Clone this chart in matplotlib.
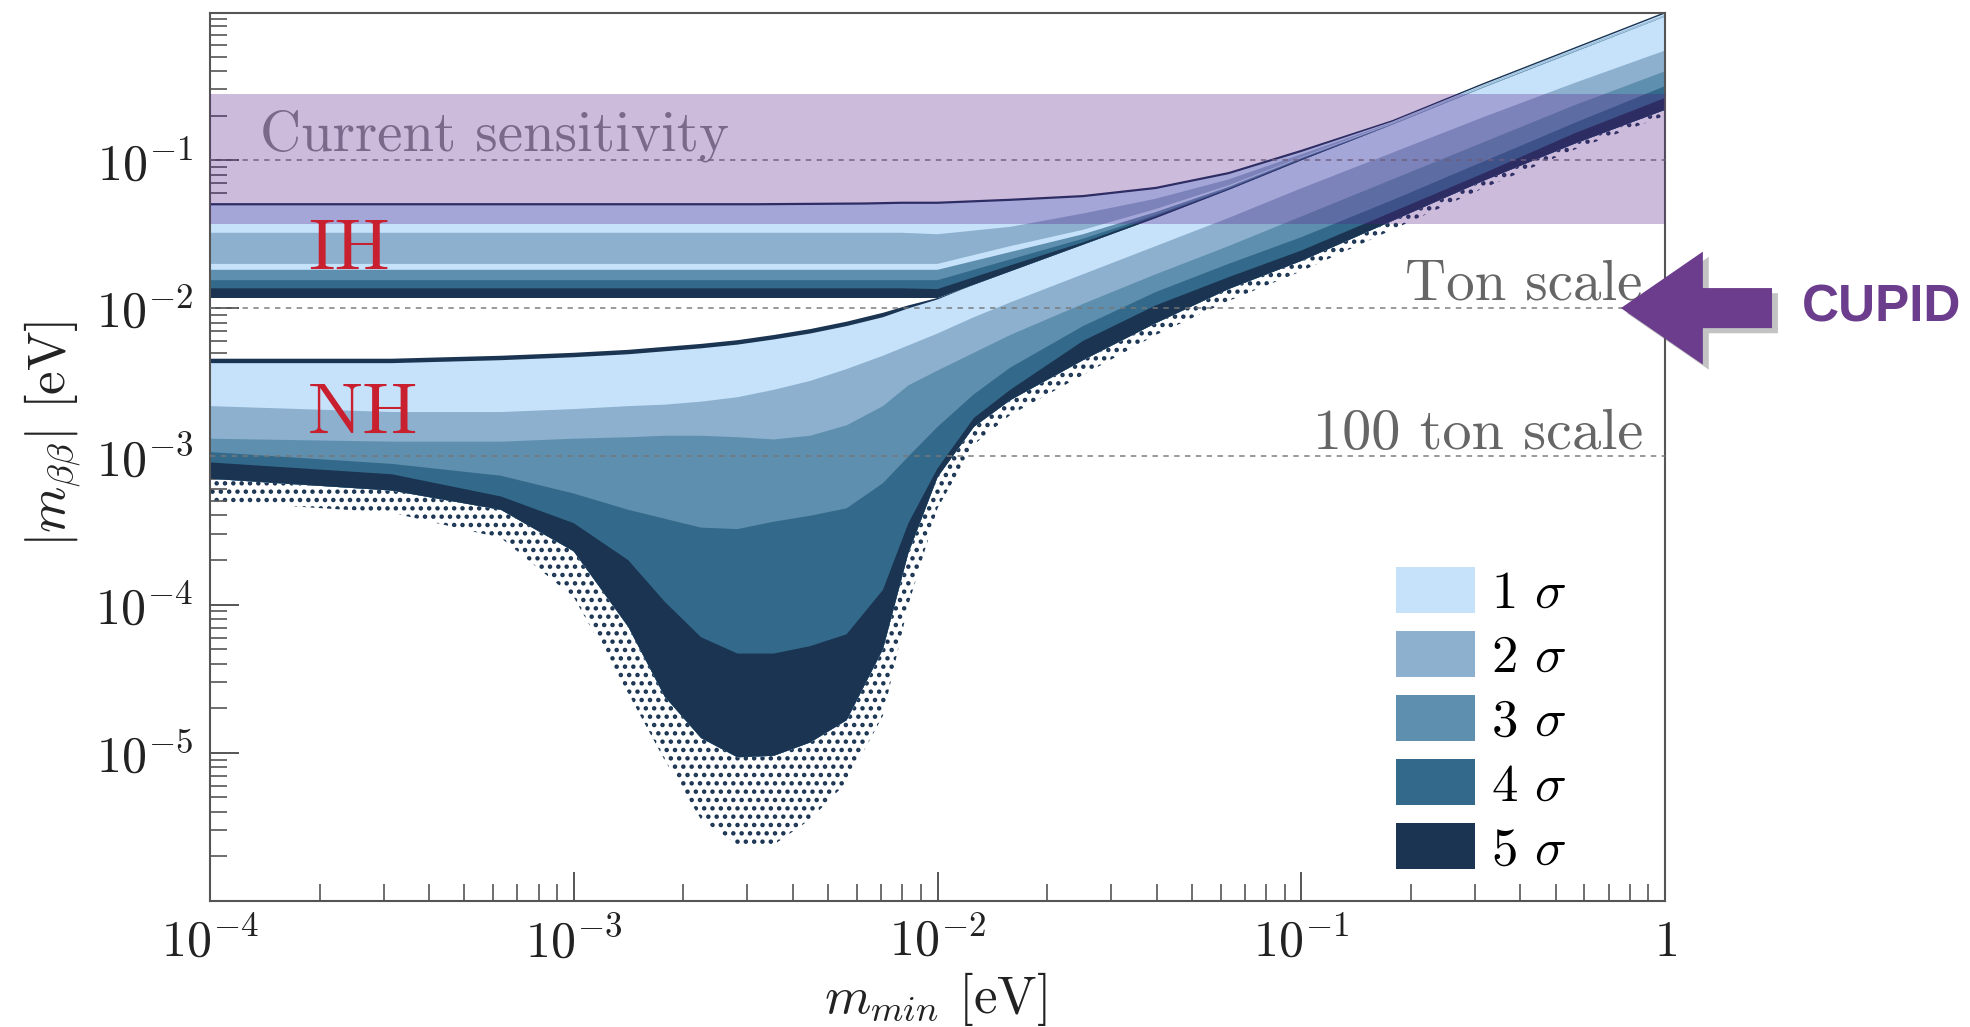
import numpy as np
import matplotlib
matplotlib.use("Agg")
import matplotlib.pyplot as plt
from matplotlib.patches import Patch, FancyArrow
from matplotlib.ticker import LogLocator, FuncFormatter, NullFormatter

plt.rcParams['mathtext.fontset'] = 'cm'
plt.rcParams['hatch.linewidth'] = 2.0

# ---- data (log10 of eV) ----
# normal hierarchy: boundaries from top (5 sigma edge) down to the 5 sigma bottom
nh_log_mmin = [-4.0, -3.5, -3.2, -3.0, -2.85, -2.75, -2.65, -2.55, -2.45, -2.35, -2.25, -2.15,
               -2.08, -2.0, -1.9, -1.8, -1.6, -1.4, -1.2, -1.0, -0.75, -0.5, -0.25, 0.0]
nh_top5 = [-2.34, -2.34, -2.32, -2.30, -2.28, -2.26, -2.24, -2.215, -2.18, -2.14, -2.09, -2.03,
           -1.98, -1.93, -1.84, -1.75, -1.57, -1.39, -1.20, -1.00, -0.76, -0.51, -0.27, -0.03]
nh_top1 = [-2.37, -2.37, -2.35, -2.33, -2.31, -2.29, -2.27, -2.245, -2.21, -2.17, -2.12, -2.06,
           -2.00, -1.94, -1.84, -1.75, -1.57, -1.39, -1.20, -1.00, -0.76, -0.51, -0.27, -0.03]
nh_1s_2s = [-2.66, -2.70, -2.70, -2.68, -2.66, -2.65, -2.63, -2.60, -2.55, -2.49, -2.41, -2.32,
            -2.25, -2.17, -2.06, -1.96, -1.77, -1.58, -1.39, -1.19, -0.95, -0.71, -0.48, -0.26]
nh_2s_3s = [-2.88, -2.90, -2.90, -2.88, -2.87, -2.86, -2.86, -2.87, -2.885, -2.86, -2.79, -2.66,
            -2.52, -2.42, -2.30, -2.18, -1.97, -1.77, -1.58, -1.38, -1.13, -0.88, -0.63, -0.40]
nh_3s_4s = [-2.97, -3.05, -3.13, -3.25, -3.36, -3.42, -3.48, -3.49, -3.44, -3.40, -3.35, -3.18,
            -3.00, -2.80, -2.58, -2.40, -2.12, -1.89, -1.70, -1.52, -1.27, -1.01, -0.75, -0.50]
nh_4s_5s = [-3.04, -3.12, -3.27, -3.45, -3.70, -3.98, -4.22, -4.33, -4.33, -4.28, -4.20, -3.90,
            -3.45, -3.08, -2.74, -2.55, -2.22, -1.98, -1.79, -1.61, -1.35, -1.09, -0.82, -0.58]
nh_bottom5 = [-3.15, -3.23, -3.36, -3.64, -4.15, -4.62, -4.90, -5.03, -5.02, -4.93, -4.78, -4.30,
              -3.65, -3.14, -2.80, -2.62, -2.35, -2.10, -1.87, -1.68, -1.41, -1.14, -0.89, -0.66]
nh_scatter_edge = [-3.30, -3.38, -3.55, -3.95, -4.60, -5.05, -5.45, -5.62, -5.62, -5.45, -5.20, -4.75,
                   -4.00, -3.35, -2.92, -2.72, -2.45, -2.18, -1.95, -1.75, -1.47, -1.19, -0.93, -0.70]

# inverted hierarchy
ih_log_mmin = [-4.0, -3.0, -2.5, -2.2, -2.1, -2.0, -1.8, -1.6, -1.4, -1.2, -1.0, -0.75, -0.5, -0.25, 0.0]
ih_top5 = [-1.29, -1.29, -1.29, -1.285, -1.28, -1.28, -1.26, -1.235, -1.18, -1.08, -0.93, -0.73, -0.48, -0.24, 0.0]
ih_top1 = [-1.305, -1.305, -1.305, -1.30, -1.295, -1.295, -1.275, -1.25, -1.195, -1.095, -0.945, -0.74, -0.49, -0.25, -0.01]
ih_1s_2s = [-1.49, -1.49, -1.49, -1.49, -1.49, -1.50, -1.45, -1.36, -1.26, -1.13, -0.96, -0.745, -0.495, -0.255, -0.02]
ih_2s_1s = [-1.70, -1.70, -1.70, -1.70, -1.70, -1.70, -1.58, -1.47, -1.33, -1.17, -0.98, -0.75, -0.50, -0.26, -0.025]
ih_1s_3s = [-1.74, -1.74, -1.74, -1.74, -1.74, -1.74, -1.62, -1.50, -1.35, -1.18, -0.985, -0.755, -0.505, -0.265, -0.028]
ih_3s_4s = [-1.81, -1.81, -1.81, -1.81, -1.81, -1.81, -1.67, -1.53, -1.37, -1.19, -0.99, -0.76, -0.51, -0.27, -0.03]
ih_4s_5s = [-1.865, -1.865, -1.865, -1.865, -1.865, -1.87, -1.71, -1.555, -1.38, -1.195, -0.995, -0.76, -0.51, -0.27, -0.03]
ih_bottom5 = [-1.93, -1.93, -1.93, -1.93, -1.93, -1.93, -1.75, -1.57, -1.39, -1.20, -1.00, -0.76, -0.51, -0.27, -0.03]

sigma_labels = ['1 $\\sigma$', '2 $\\sigma$', '3 $\\sigma$', '4 $\\sigma$', '5 $\\sigma$']
sigma_colors = ['#c6e2fa', '#8cb0ce', '#5f8fae', '#33698a', '#1a3452']

current_band = (0.037, 0.28)
sensitivity_lines = [0.1, 0.01, 0.001]

# ---- figure ----
fig = plt.figure(figsize=(19.7, 10.27), dpi=100)
ax = fig.add_axes([0.1066, 0.1227, 0.7386, 0.8646])
ax.set_xscale('log')
ax.set_yscale('log')
ax.set_xlim(1e-4, 1)
ax.set_ylim(1e-6, 0.984)


def draw_strips(log_x, bounds, levels):
    # each strip is painted from its top edge down to the common bottom,
    # the next one covers the lower part (no seams between strips)
    x = 10 ** np.array(log_x)
    bottom = 10 ** np.array(bounds[-1])
    for top, lev in zip(bounds[:-1], levels):
        ax.fill_between(x, bottom, 10 ** np.array(top), facecolor=sigma_colors[lev - 1],
                        edgecolor='none', linewidth=0, zorder=2)


# scattered points below the 5 sigma body
ax.fill_between(10 ** np.array(nh_log_mmin), 10 ** np.array(nh_scatter_edge), 10 ** np.array(nh_bottom5),
                facecolor='none', edgecolor=sigma_colors[4], hatch='..', linewidth=0, zorder=1.5)

draw_strips(nh_log_mmin, [nh_top5, nh_top1, nh_1s_2s, nh_2s_3s, nh_3s_4s, nh_4s_5s, nh_bottom5],
            [5, 1, 2, 3, 4, 5])
draw_strips(ih_log_mmin, [ih_top5, ih_top1, ih_1s_2s, ih_2s_1s, ih_1s_3s, ih_3s_4s, ih_4s_5s, ih_bottom5],
            [5, 1, 2, 1, 3, 4, 5])

# experiment sensitivity lines
for yv in sensitivity_lines:
    ax.axhline(yv, color='#777777', lw=1.3, ls=(0, (3, 3)), alpha=0.8, zorder=2.6)

ax.text(1.37e-4, 0.117, 'Current sensitivity', family='cmr10', fontsize=41, color='#8a8a8a',
        ha='left', va='baseline', zorder=2.5)
ax.axhspan(current_band[0], current_band[1], color='#5a1e8c', alpha=0.3, lw=0, zorder=3)

ax.text(0.869, 0.0115, 'Ton scale', family='cmr10', fontsize=41, color='#666666',
        ha='right', va='baseline', zorder=4)
ax.text(0.869, 1.12e-3, '100 ton scale', family='cmr10', fontsize=42, color='#666666',
        ha='right', va='baseline', zorder=4)
ax.text(1.86e-4, 0.0181, 'IH', family='cmr10', fontsize=53, color='#c8202f',
        ha='left', va='baseline', zorder=4)
ax.text(1.86e-4, 1.43e-3, 'NH', family='cmr10', fontsize=53, color='#c8202f',
        ha='left', va='baseline', zorder=4)

# legend
handles = [Patch(facecolor=c, edgecolor='none') for c in sigma_colors]
ax.legend(handles, sigma_labels, loc='lower left', bbox_to_anchor=(0.815, 0.03), frameon=False,
          prop={'family': 'cmr10', 'size': 38}, handlelength=1.5, handleheight=0.95,
          labelspacing=0.25, handletextpad=0.3, borderpad=0, borderaxespad=0)

# axes styling
for s in ax.spines.values():
    s.set_color('#555555')
    s.set_linewidth(1.5)
ax.tick_params(which='both', direction='in', top=False, right=False, colors='#555555',
               labelcolor='#222222', labelsize=36, pad=12)
ax.tick_params(which='major', length=21, width=1.4)
ax.tick_params(which='minor', length=12, width=1.2)
ax.xaxis.set_major_locator(LogLocator(base=10, numticks=10))
ax.yaxis.set_major_locator(LogLocator(base=10, numticks=10))
ax.xaxis.set_minor_locator(LogLocator(base=10, subs=np.arange(2, 10), numticks=20))
ax.yaxis.set_minor_locator(LogLocator(base=10, subs=np.arange(2, 10), numticks=20))
ax.xaxis.set_minor_formatter(NullFormatter())
ax.yaxis.set_minor_formatter(NullFormatter())


def xfmt(v, pos):
    e = int(round(np.log10(v)))
    return '$1$' if e == 0 else '$10^{%d}$' % e


def yfmt(v, pos):
    e = int(round(np.log10(v)))
    if e < -5 or e > -1:
        return ''
    return '$10^{%d}$' % e


ax.xaxis.set_major_formatter(FuncFormatter(xfmt))
ax.yaxis.set_major_formatter(FuncFormatter(yfmt))

fig.text(0.475, 0.027, '$m_{min}$ [eV]', family='cmr10', fontsize=38, ha='center', va='center',
         color='#222222')
fig.text(0.027, 0.578, r'$|m_{\beta\beta}|$ [eV]', family='cmr10', fontsize=38, ha='center',
         va='center', rotation=90, color='#222222')

# CUPID arrow
shadow = FancyArrow(0.9025, 0.695, -0.0767, 0, width=0.039, head_width=0.110, head_length=0.0416,
                    length_includes_head=True, transform=fig.transFigure, color='#555555',
                    alpha=0.35, lw=0, zorder=9)
arrow = FancyArrow(0.8995, 0.700, -0.0767, 0, width=0.039, head_width=0.110, head_length=0.0416,
                   length_includes_head=True, transform=fig.transFigure, color='#6b3d8c',
                   lw=0, zorder=10)
fig.patches.extend([shadow, arrow])
fig.text(0.955, 0.700, 'CUPID', family='Liberation Sans', weight='bold', fontsize=37,
         color='#6b3d8c', ha='center', va='center')

fig.savefig('out.png', dpi=100)
